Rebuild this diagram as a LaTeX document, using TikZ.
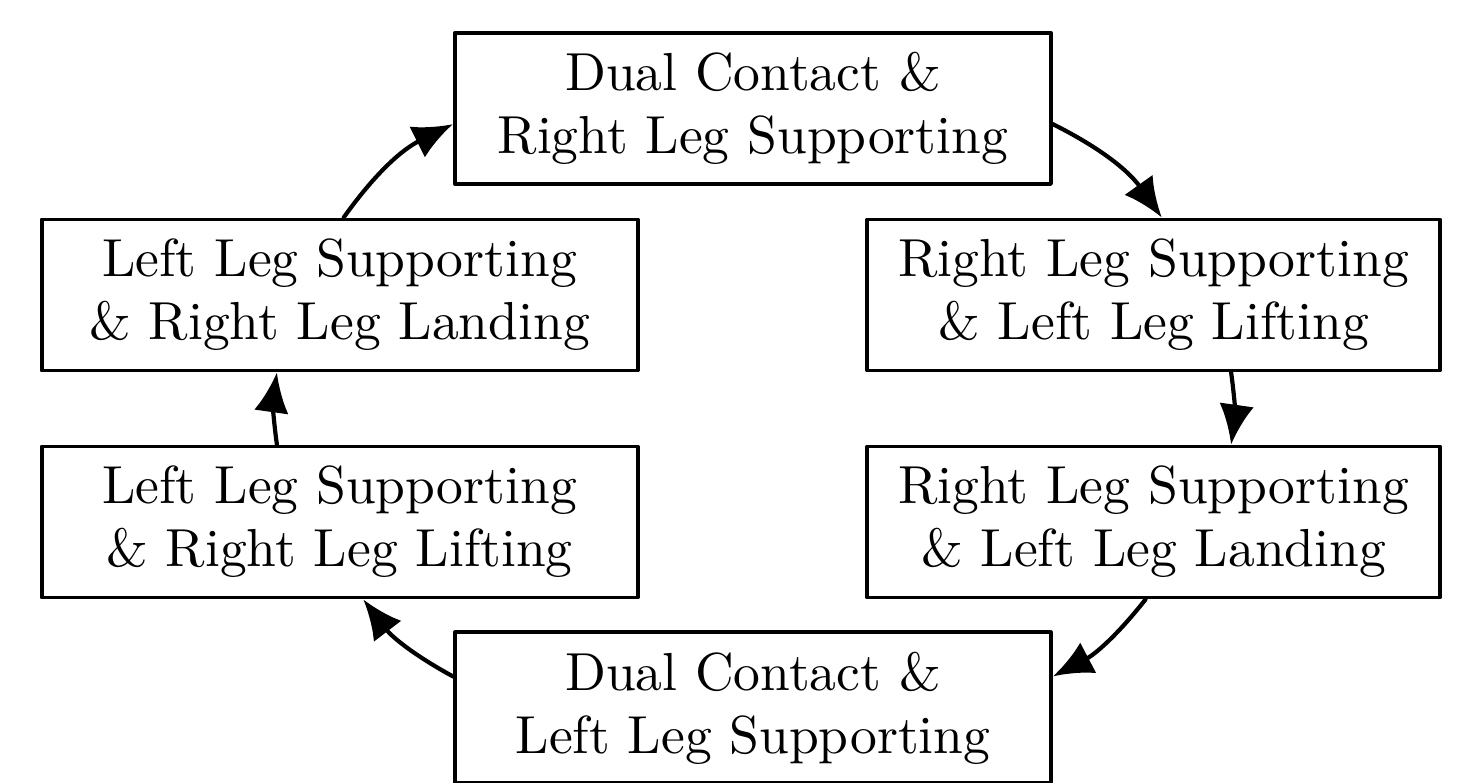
\documentclass[tikz,border=0pt]{standalone}
\usetikzlibrary{arrows.meta}
\begin{document}
\begin{tikzpicture}[>={Latex[length=7.6pt,width=6.6pt]},line join=round,line cap=round,font=\fontsize{10.2pt}{12pt}\selectfont]
	\tikzset{trangthai/.style={draw,line width=.75pt,align=center,minimum height=1.011cm,inner sep=0pt},
		chuyen/.style={->,line width=.8pt}}
	\useasboundingbox (0,0) rectangle (9.869,-5.236);
	% Các trạng thái
	\node[trangthai,minimum width=3.990cm] (top) at (5.041,-0.726) {Dual Contact \&\\Right Leg Supporting};
	\node[trangthai,minimum width=3.834cm] (ru) at (7.724,-1.975) {Right Leg Supporting\\\& Left Leg Lifting};
	\node[trangthai,minimum width=3.834cm] (rl) at (7.724,-3.495) {Right Leg Supporting\\\& Left Leg Landing};
	\node[trangthai,minimum width=3.990cm] (bot) at (5.041,-4.740) {Dual Contact \&\\Left Leg Supporting};
	\node[trangthai,minimum width=3.989cm] (ll) at (2.274,-3.495) {Left Leg Supporting\\\& Right Leg Lifting};
	\node[trangthai,minimum width=3.989cm] (lu) at (2.274,-1.975) {Left Leg Supporting\\\& Right Leg Landing};
	% Mũi tên
	\draw[chuyen] (top.-3) to[bend left=14] (ru.84);
	\draw[chuyen] (ru.-45) to[bend left=8] (rl.45);
	\draw[chuyen] (rl.-96) to[bend left=12] (bot.6);
	\draw[chuyen] (bot.174) to[bend left=12] (ll.-73);
	\draw[chuyen] (ll.129) to[bend left=8] (lu.-129);
	\draw[chuyen] (lu.87) to[bend left=14] (top.183);
\end{tikzpicture}
\end{document}
